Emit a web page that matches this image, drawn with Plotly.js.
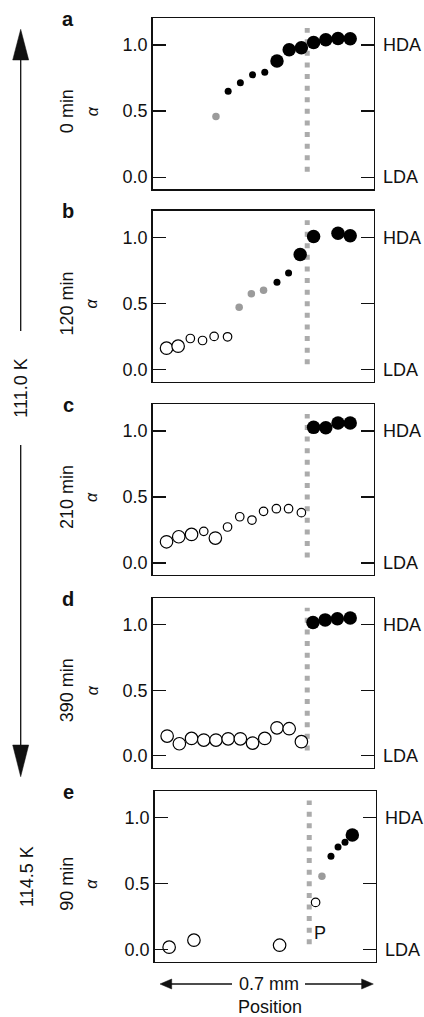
<!DOCTYPE html>
<html><head><meta charset="utf-8">
<script src="https://cdn.plot.ly/plotly-3.0.1.min.js"></script>
<style>html,body{margin:0;padding:0;background:#fff}#chart{width:424px;height:1017px}</style>
</head><body><div id="chart"></div>
<script>
// ---------- data ----------
const panelLetters = ['a', 'b', 'c', 'd', 'e'];
const timeLabels = ['0 min', '120 min', '210 min', '390 min', '90 min'];
const tempLabels = ['111.0 K', '114.5 K'];
const phaseTickText = ['LDA', 'HDA'];
const phaseTickVals = [0, 1];
const alphaTickVals = [0, 0.5, 1];
const boundaryPos = 12.48;
const boundaryAlpha = [0.04, 1.13];
const pLabelPos = 13.36;
const pLabelAlpha = 0.128;

// panel a (0 min)
const posA   = [5, 6, 7, 8, 9, 10, 11, 12, 13, 14, 15, 16];
const alphaA = [0.46, 0.65, 0.715, 0.775, 0.795, 0.88, 0.965, 0.98, 1.02, 1.04, 1.05, 1.048];
const kindA  = ['gray','dot','dot','dot','dot','big','big','big','big','big','big','big'];

// panel b (120 min)
const posB   = [0.95, 1.9, 2.9, 3.9, 4.85, 5.95, 6.9, 7.9, 8.9, 10, 10.95, 11.9, 13, 15, 16];
const alphaB = [0.162, 0.177, 0.235, 0.22, 0.251, 0.248, 0.471, 0.575, 0.6, 0.661, 0.732, 0.871, 1.008, 1.033, 1.013];
const kindB  = ['open','open','ring','ring','ring','ring','gray','gray','gray','dot','dot','big','big','big','big'];

// panel c (210 min)
const posC   = [0.95, 1.95, 3, 4, 4.95, 5.95, 6.95, 7.95, 8.9, 9.95, 10.95, 12, 13, 14, 15, 16];
const alphaC = [0.16, 0.198, 0.216, 0.239, 0.188, 0.272, 0.35, 0.325, 0.391, 0.411, 0.411, 0.381, 1.028, 1.025, 1.061, 1.061];
const kindC  = ['open','open','open','ring','open','ring','ring','ring','ring','ring','ring','ring','big','big','big','big'];

// panel d (390 min)
const posD   = [1, 2, 3, 4, 5, 6, 7, 8, 9, 10, 11, 12, 12.95, 13.95, 14.95, 16];
const alphaD = [0.15, 0.091, 0.132, 0.119, 0.119, 0.129, 0.129, 0.096, 0.132, 0.213, 0.206, 0.107, 1.018, 1.038, 1.046, 1.053];
const kindD  = ['open','open','open','open','open','open','open','open','open','open','open','open','big','big','big','big'];

// panel e (114.5 K, 90 min)
const posE   = [1, 3.03, 10.05, 13, 13.52, 14.26, 14.84, 15.41, 16.01];
const alphaE = [0.018, 0.071, 0.033, 0.358, 0.557, 0.708, 0.778, 0.814, 0.869];
const kindE  = ['open','open','open','ring','gray','dot','dot','dot','big'];

const panels = [
  {pos: posA, alpha: alphaA, kind: kindA},
  {pos: posB, alpha: alphaB, kind: kindB},
  {pos: posC, alpha: alphaC, kind: kindC},
  {pos: posD, alpha: alphaD, kind: kindD},
  {pos: posE, alpha: alphaE, kind: kindE}
];

// ---------- layout geometry (pixels) ----------
const W = 424, H = 1017;
const boxes = [
  {l: 152.5, r: 374, t: 18.3, b: 189.3},
  {l: 152.5, r: 374, t: 210.7, b: 381.7},
  {l: 152.5, r: 374, t: 404.3, b: 575},
  {l: 152.5, r: 374, t: 598.3, b: 767.7},
  {l: 154.5, r: 376, t: 791, b: 961.7}
];
const xRange = [-0.2, 17.95];
const yRange = [-0.092, 1.203];
const X = px => px / W;
const Y = py => 1 - py / H;

const FONT = '"Liberation Sans", Arial, Helvetica, sans-serif';
const INK = '#111';
const FS = 18;

const styles = {
  open: {size: 12.5, color: '#fff', line: {width: 1.2, color: '#000'}},
  ring: {size: 8.5, color: '#fff', line: {width: 1.2, color: '#000'}},
  gray: {size: 7.5, color: '#9b9b9b', line: {width: 0}},
  dot:  {size: 7, color: '#000', line: {width: 0}},
  big:  {size: 13.5, color: '#000', line: {width: 0}}
};
const order = ['open', 'ring', 'gray', 'dot', 'big'];

const traces = [];
const layout = {
  width: W, height: H,
  margin: {l: 0, r: 0, t: 0, b: 0},
  paper_bgcolor: '#fff', plot_bgcolor: '#fff',
  showlegend: false,
  font: {family: FONT, color: INK, size: FS},
  annotations: [], shapes: []
};

panels.forEach((p, i) => {
  const n = i + 1;
  const xa = 'x' + (n === 1 ? '' : n), ya = 'y' + (n === 1 ? '' : n);
  const bx = boxes[i];
  // dotted boundary line
  traces.push({
    type: 'scatter', mode: 'lines', xaxis: xa, yaxis: ya,
    x: [boundaryPos, boundaryPos], y: boundaryAlpha,
    line: {color: '#ababab', width: 5, dash: '5px,6.6px'},
    hoverinfo: 'skip'
  });
  order.forEach(k => {
    const xs = [], ys = [];
    p.kind.forEach((kk, j) => { if (kk === k) { xs.push(p.pos[j]); ys.push(p.alpha[j]); } });
    if (!xs.length) return;
    traces.push({
      type: 'scatter', mode: 'markers', xaxis: xa, yaxis: ya,
      x: xs, y: ys, marker: styles[k], cliponaxis: false
    });
  });
  layout['xaxis' + (n === 1 ? '' : n)] = {
    domain: [X(bx.l), X(bx.r)], range: xRange, anchor: ya,
    showline: true, mirror: true, linecolor: INK, linewidth: 1.3,
    showticklabels: false, ticks: '', showgrid: false, zeroline: false, fixedrange: true
  };
  layout['yaxis' + (n === 1 ? '' : n)] = {
    domain: [Y(bx.b), Y(bx.t)], range: yRange, anchor: xa,
    showline: true, mirror: 'ticks', linecolor: INK, linewidth: 1.3,
    ticks: 'inside', ticklen: 13, tickwidth: 1.3, tickcolor: INK,
    tickvals: alphaTickVals, tickformat: '.1f',
    tickfont: {family: FONT, size: FS, color: INK},
    showgrid: false, zeroline: false, fixedrange: true
  };
  // HDA / LDA labels
  phaseTickText.forEach((t, j) => {
    layout.annotations.push({
      xref: 'paper', yref: ya, x: X(bx.r + 7), y: phaseTickVals[j],
      xanchor: 'left', yanchor: 'middle', text: t, showarrow: false,
      font: {family: FONT, size: FS, color: INK}
    });
  });
  // panel letter
  layout.annotations.push({
    xref: 'paper', yref: 'paper', x: X(68), y: Y(bx.t + 0.5),
    xanchor: 'center', yanchor: 'middle', text: '<b>' + panelLetters[i] + '</b>',
    showarrow: false, font: {family: FONT, size: 20, color: INK}
  });
  // time label
  layout.annotations.push({
    xref: 'paper', yref: ya, x: X(67), y: 0.5, textangle: -90,
    xanchor: 'center', yanchor: 'middle', text: timeLabels[i],
    showarrow: false, font: {family: FONT, size: FS, color: INK}
  });
  // alpha axis symbol
  layout.annotations.push({
    xref: 'paper', yref: ya, x: X(92), y: 0.5, textangle: -90,
    xanchor: 'center', yanchor: 'middle', text: '<i>α</i>',
    showarrow: false, font: {family: FONT, size: 16, color: INK}
  });
});

// "P" label in panel e
layout.annotations.push({
  xref: 'x5', yref: 'y5', x: pLabelPos, y: pLabelAlpha, text: 'P',
  showarrow: false, xanchor: 'center', yanchor: 'middle',
  font: {family: FONT, size: FS, color: INK}
});

// temperature labels
layout.annotations.push({
  xref: 'paper', yref: 'paper', x: X(20.7), y: Y(388), textangle: -90,
  text: tempLabels[0], showarrow: false, xanchor: 'center', yanchor: 'middle',
  font: {family: FONT, size: FS, color: INK}
});
layout.annotations.push({
  xref: 'paper', yref: 'paper', x: X(27), y: Y(877), textangle: -90,
  text: tempLabels[1], showarrow: false, xanchor: 'center', yanchor: 'middle',
  font: {family: FONT, size: FS, color: INK}
});

// bottom scale and axis title
layout.annotations.push({
  xref: 'paper', yref: 'paper', x: X(269), y: Y(984),
  text: '0.7 mm', showarrow: false, xanchor: 'center', yanchor: 'middle',
  font: {family: FONT, size: FS, color: INK}
});
layout.annotations.push({
  xref: 'paper', yref: 'paper', x: X(270), y: Y(1007),
  text: 'Position', showarrow: false, xanchor: 'center', yanchor: 'middle',
  font: {family: FONT, size: FS, color: INK}
});

// arrows (decorations, paper coordinates)
const seg = (x0, y0, x1, y1) => ({
  type: 'line', xref: 'paper', yref: 'paper',
  x0: X(x0), y0: Y(y0), x1: X(x1), y1: Y(y1),
  line: {color: INK, width: 1.3}
});
const tri = pts => ({
  type: 'path', xref: 'paper', yref: 'paper',
  path: 'M ' + pts.map(p => X(p[0]) + ',' + Y(p[1])).join(' L ') + ' Z',
  fillcolor: INK, line: {color: INK, width: 0.5}
});
layout.shapes.push(seg(20.7, 58, 20.7, 331));
layout.shapes.push(seg(20.7, 445, 20.7, 747));
layout.shapes.push(tri([[12.7, 60], [20.7, 29.3], [28.7, 60]]));
layout.shapes.push(tri([[12.7, 745], [20.7, 776.7], [28.7, 745]]));
layout.shapes.push(seg(170, 984, 232, 984));
layout.shapes.push(seg(305, 984, 363, 984));
layout.shapes.push(tri([[171.7, 979], [160, 984], [171.7, 989]]));
layout.shapes.push(tri([[361.6, 979], [373.3, 984], [361.6, 989]]));

Plotly.newPlot('chart', traces, layout, {displayModeBar: false, staticPlot: true});
</script>
</body></html>
